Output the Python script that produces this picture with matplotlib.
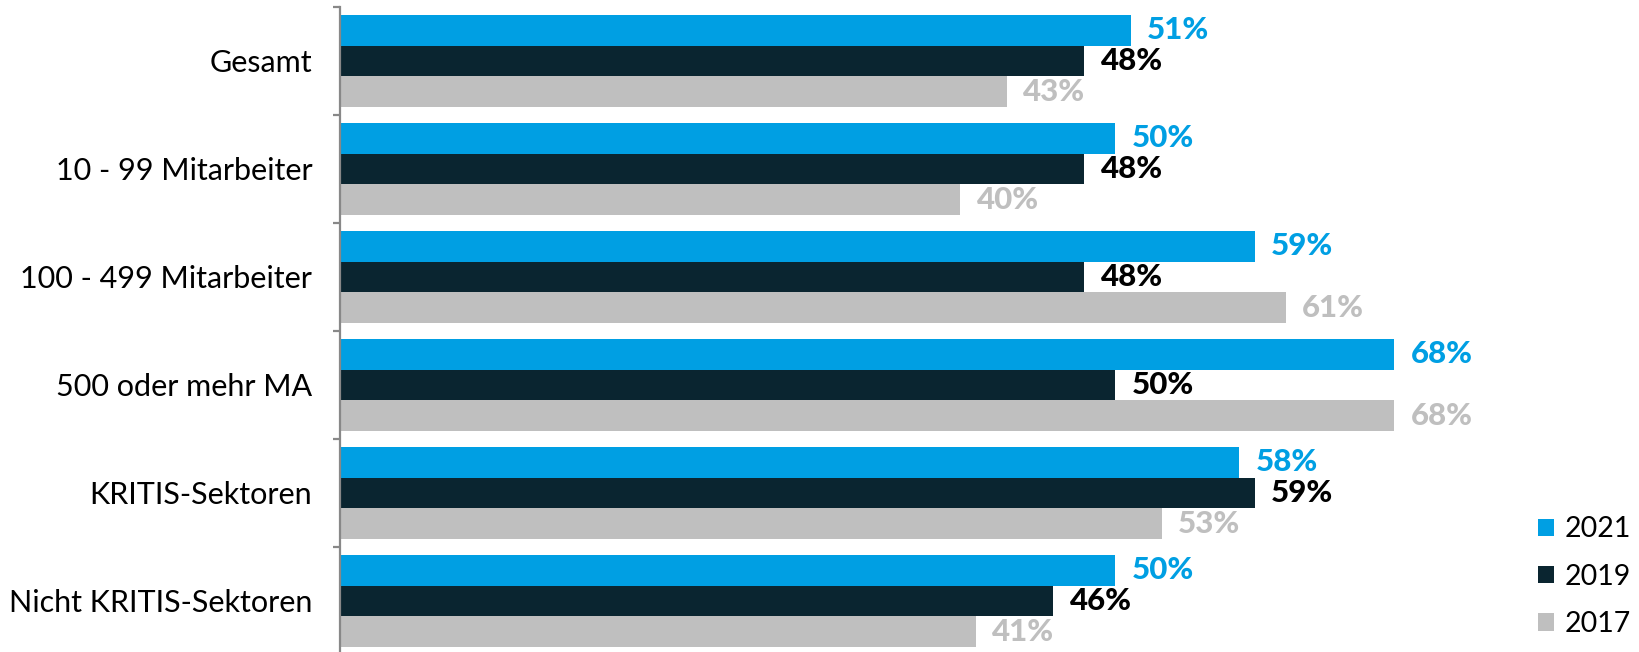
import matplotlib
matplotlib.use("Agg")
import matplotlib.pyplot as plt
import numpy as np

categories = ["Gesamt", "10 - 99 Mitarbeiter", "100 - 499 Mitarbeiter",
              "500 oder mehr MA", "KRITIS-Sektoren", "Nicht KRITIS-Sektoren"]
series_names = ["2021", "2019", "2017"]
v2021 = [51, 50, 59, 68, 58, 50]
v2019 = [48, 48, 48, 50, 59, 46]
v2017 = [43, 40, 61, 68, 53, 41]
colors = ["#009FE3", "#0A2530", "#BFBFBF"]
label_colors = ["#009FE3", "#000000", "#BFBFBF"]

plt.rcParams['font.family'] = ['Lato', 'DejaVu Sans']

W, H = 1639, 652
fig = plt.figure(figsize=(W / 100, H / 100), dpi=100)
x0 = 340
top_px, bot_px = 7, 655
ax_w_px = 1190
ax = fig.add_axes([x0 / W, 1 - bot_px / H, ax_w_px / W, (bot_px - top_px) / H])

scale = 15.5  # px per %
ax.set_xlim(0, ax_w_px / scale)
ax.set_ylim(len(categories) - 0.5, -0.5)

y = np.arange(len(categories))
h = 0.287
offsets = [-h, 0, h]
all_vals = [v2021, v2019, v2017]
handles = []
for vals, off, c, lc, name in zip(all_vals, offsets, colors, label_colors, series_names):
    bars = ax.barh(y + off, vals, height=h, color=c, label=name, linewidth=0)
    handles.append(bars)
    for yi, v in zip(y + off, vals):
        ax.annotate(f"{v}%", xy=(v, yi), xytext=(12, 0), textcoords="offset points",
                    ha="left", va="center", fontsize=22.5, fontweight="black", color=lc)

for s in ["top", "right", "bottom"]:
    ax.spines[s].set_visible(False)
ax.spines["left"].set_color("#888888")
ax.spines["left"].set_linewidth(1.6)
ax.xaxis.set_visible(False)

ax.set_yticks(np.arange(-0.5, len(categories) + 0.5, 1.0))
ax.set_yticklabels([])
ax.tick_params(axis="y", which="major", length=5, width=1.6, color="#888888", direction="out")
ax.set_yticks(y, minor=True)
ax.set_yticklabels(categories, minor=True, fontsize=22, color="#000000")
ax.tick_params(axis="y", which="minor", length=0, pad=20)

fig.legend(handles=handles, labels=series_names, loc="lower left",
           bbox_to_anchor=(1538 / W, 15 / H), frameon=False, fontsize=20.5,
           handlelength=0.55, handleheight=0.55, handletextpad=0.4,
           labelspacing=0.75, borderpad=0, borderaxespad=0)

fig.savefig("out.png", dpi=100)
